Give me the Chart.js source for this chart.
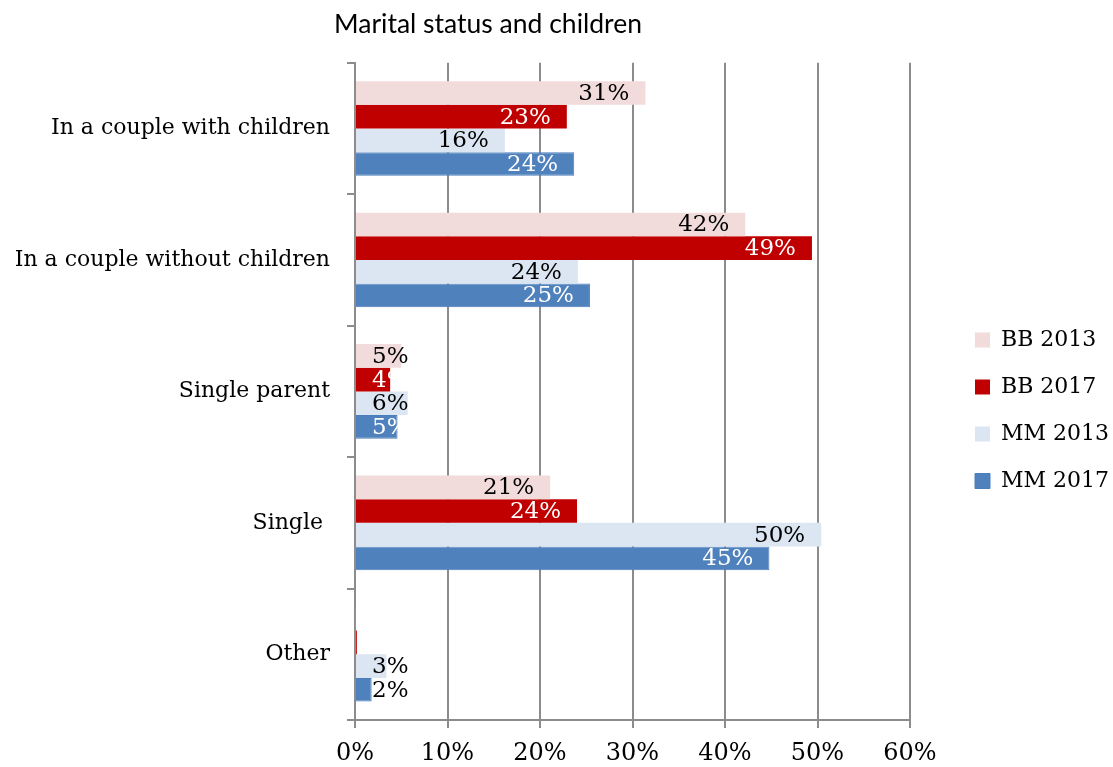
<!DOCTYPE html>
<html>
<head>
<meta charset="utf-8">
<title>Marital status and children</title>
<style>
  html, body { margin: 0; padding: 0; background: #ffffff; }
  canvas { display: block; }
</style>
<script src="https://cdn.jsdelivr.net/npm/chart.js@4.4.1/dist/chart.umd.min.js"></script>
</head>
<body>
<canvas id="chart" width="1113" height="767"></canvas>
<script>
// ---- data ----
const categories = ['In a couple with children', 'In a couple without children', 'Single parent', 'Single ', 'Other'];
const seriesNames = ['BB 2013', 'BB 2017', 'MM 2013', 'MM 2017'];
const bb2013 = [31.4, 42.2, 5.0, 21.1, 0.1];
const bb2017 = [22.9, 49.4, 3.8, 24.0, 0.2];
const mm2013 = [16.2, 24.1, 5.7, 50.4, 3.4];
const mm2017 = [23.7, 25.4, 4.6, 44.8, 1.8];
const xTickValues = [0, 10, 20, 30, 40, 50, 60];

// ---- styling ----
const SERIF = '"DejaVu Serif", "Liberation Serif", serif';
const GRID = '#8c8c8c';
const fills = ['#F2DCDB', '#C00000', '#DCE6F2', '#4F81BD'];
const edges = ['#F2DCDB', '#C00000', '#DCE6F2', '#4A7EBB'];
const labelInk = ['#000000', '#ffffff', '#000000', '#ffffff'];

Chart.defaults.color = '#000000';
Chart.defaults.font.family = SERIF;
Chart.defaults.font.size = 22;

const seriesValues = [bb2013, bb2017, mm2013, mm2017];
const datasets = seriesNames.map((name, i) => ({
  label: name,
  data: seriesValues[i],
  backgroundColor: fills[i],
  borderColor: edges[i],
  borderWidth: i === 3 ? 1 : 0,
  categoryPercentage: 0.72,
  barPercentage: 1.0
}));

// Places the title and legend blocks and reserves the legend column width.
const blockPlacement = {
  id: 'blockPlacement',
  beforeLayout(chart) {
    const lg = chart.legend;
    if (lg && !lg._fixedWidth) {
      const fit = lg.fit;
      lg.fit = function () { fit.call(this); this.width = 203; };
      lg._fixedWidth = true;
    }
  },
  afterLayout(chart) {
    const lg = chart.legend;
    if (lg) { lg.left = 950; lg.right = 1113; lg.top = 304; lg.bottom = 767; }
    const tb = chart.titleBlock;
    if (tb) { tb.left = 288; tb.right = 688; }
  }
};

// Percentage labels at the inner end of each bar.
const valueLabels = {
  id: 'valueLabels',
  afterDatasetsDraw(chart) {
    const ctx = chart.ctx;
    ctx.save();
    ctx.font = '23px ' + SERIF;
    ctx.textBaseline = 'middle';
    ctx.textAlign = 'left';
    chart.data.datasets.forEach((ds, i) => {
      const meta = chart.getDatasetMeta(i);
      meta.data.forEach((bar, j) => {
        const v = ds.data[j];
        if (v < 0.5) return;
        const txt = Math.round(v) + '%';
        const w = ctx.measureText(txt).width;
        const x = Math.max(bar.x - 16 - w, bar.base + 16);
        ctx.fillStyle = v < 3 ? '#000000' : labelInk[i];
        ctx.fillText(txt, x, bar.y + 1);
      });
    });
    ctx.restore();
  }
};

new Chart(document.getElementById('chart'), {
  type: 'bar',
  data: { labels: categories, datasets },
  plugins: [blockPlacement, valueLabels],
  options: {
    indexAxis: 'y',
    responsive: false,
    animation: false,
    devicePixelRatio: 1,
    layout: { padding: 0 },
    plugins: {
      title: {
        display: true,
        text: 'Marital status and children',
        color: '#000000',
        font: { family: 'Lato, "Open Sans", sans-serif', size: 26.5, weight: 'normal' },
        padding: { top: 9, bottom: 22 }
      },
      legend: {
        position: 'right',
        align: 'start',
        labels: {
          boxWidth: 15,
          boxHeight: 15,
          padding: 25,
          color: '#000000',
          font: { family: SERIF, size: 22 }
        }
      },
      tooltip: { enabled: false }
    },
    scales: {
      x: {
        min: 0,
        max: 60,
        afterBuildTicks(scale) { scale.ticks = xTickValues.map(v => ({ value: v })); },
        afterFit(scale) { scale.height = 47; },
        ticks: {
          padding: 11,
          color: '#000000',
          font: { family: SERIF, size: 24 },
          callback: v => v + '%'
        },
        grid: { color: GRID, lineWidth: 2, tickLength: 8, drawTicks: true },
        border: { color: GRID, width: 2 }
      },
      y: {
        afterFit(scale) { scale.width = 355; },
        ticks: {
          padding: 17,
          color: '#000000',
          font: { family: SERIF, size: 22 }
        },
        grid: { offset: true, drawOnChartArea: false, drawTicks: true, tickLength: 8, color: GRID, lineWidth: 2 },
        border: { color: GRID, width: 2 }
      }
    }
  }
});
</script>
</body>
</html>
